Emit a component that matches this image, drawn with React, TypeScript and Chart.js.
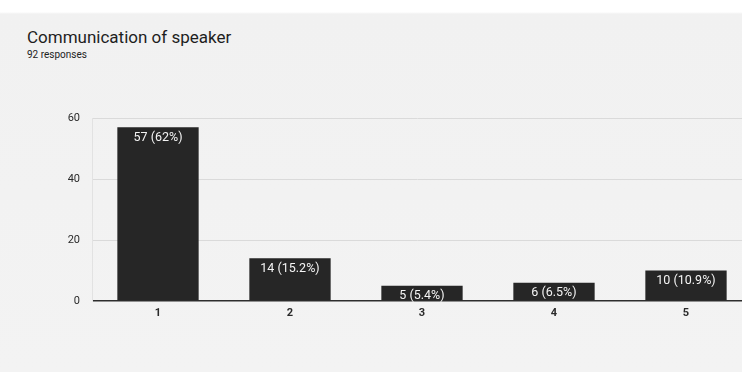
import React, { useEffect, useRef } from "react";
import { Chart, registerables } from "chart.js";

Chart.register(...registerables);

const title = "Communication of speaker";
const subtitle = "92 responses";
const categories = ["1", "2", "3", "4", "5"];
const values = [57, 14, 5, 6, 10];
const yTicks = [0, 20, 40, 60];

const total = values.reduce((a, b) => a + b, 0);
const fmtPct = (v: number) => {
  const p = (v / total) * 100;
  let s = p.toFixed(1);
  if (s.endsWith(".0")) s = s.slice(0, -2);
  return `${v} (${s}%)`;
};

const barLabelPlugin = {
  id: "barLabels",
  afterDatasetsDraw(chart: any) {
    const ctx = chart.ctx;
    const meta = chart.getDatasetMeta(0);
    ctx.save();
    ctx.fillStyle = "#f4f4f4";
    ctx.font = "12.5px Roboto, 'Liberation Sans', sans-serif";
    ctx.textAlign = "center";
    ctx.textBaseline = "top";
    meta.data.forEach((bar: any, i: number) => {
      ctx.fillText(fmtPct(values[i]), bar.x, bar.y + 4);
    });
    ctx.restore();
  },
};

export default function App() {
  const ref = useRef<HTMLCanvasElement>(null);
  useEffect(() => {
    if (!ref.current) return;
    const chart = new Chart(ref.current, {
      type: "bar",
      data: {
        datasets: [
          {
            data: categories.map((c, i) => ({ x: Number(c), y: values[i] })),
            backgroundColor: "#262626",
            borderWidth: 0,
            barPercentage: 0.77,
            categoryPercentage: 0.8,
          },
        ],
      },
      options: {
        animation: false,
        responsive: false,
        maintainAspectRatio: false,
        layout: { padding: { left: 32, top: 118, right: 0, bottom: 0 } },
        plugins: { legend: { display: false }, tooltip: { enabled: false }, title: { display: false } },
        scales: {
          x: {
            type: "linear",
            offset: false,
            min: 0.5,
            max: 0.5 + 650 / 132,
            grid: { display: false, drawTicks: false, offset: false },
            border: { display: false },
            afterFit: (s: any) => { s.height = 71; },
            afterBuildTicks: (s: any) => {
              s.ticks = categories.map((c) => ({ value: Number(c) }));
            },
            ticks: {
              includeBounds: false,
              stepSize: 1,
              padding: 6,
              color: "#2a2a2a",
              font: { family: "Roboto, 'Liberation Sans', sans-serif", size: 11, weight: "bold" },
              callback: (v: any) => categories[Number(v) - 1] ?? "",
              maxRotation: 0,
            },
          },
          y: {
            min: 0,
            max: 60,
            afterFit: (s: any) => { s.width = 60; },
            afterBuildTicks: (s: any) => {
              s.ticks = yTicks.map((v) => ({ value: v }));
            },
            grid: {
              drawTicks: false,
              color: (c: any) => (c.tick && c.tick.value === 0 ? "#2e2e2e" : "#dadada"),
              lineWidth: (c: any) => (c.tick && c.tick.value === 0 ? 1.5 : 1),
            },
            border: { display: true, color: "#e2e2e2" },
            ticks: {
              padding: 12,
              color: "#2a2a2a",
              font: { family: "Roboto, 'Liberation Sans', sans-serif", size: 11 },
            },
          },
        },
      },
      plugins: [barLabelPlugin],
    });
    return () => chart.destroy();
  }, []);

  return (
    <div
      style={{
        position: "fixed",
        left: 0,
        top: 0,
        width: 742,
        height: 372,
        overflow: "hidden",
        background: "linear-gradient(#ffffff 0px, #ffffff 12px, #f1f1f1 14px, #f3f3f3 100%)",
        fontFamily: "Roboto, 'Liberation Sans', sans-serif",
      }}
    >
      <div style={{ position: "absolute", left: 27, top: 27, fontSize: 17, fontWeight: 400, color: "#1e1e1e", whiteSpace: "nowrap" }}>
        {title}
      </div>
      <div style={{ position: "absolute", left: 27, top: 49, fontSize: 10, color: "#222", whiteSpace: "nowrap" }}>
        {subtitle}
      </div>
      <canvas ref={ref} width={742} height={372} style={{ position: "absolute", left: 0, top: 0 }} />
    </div>
  );
}
